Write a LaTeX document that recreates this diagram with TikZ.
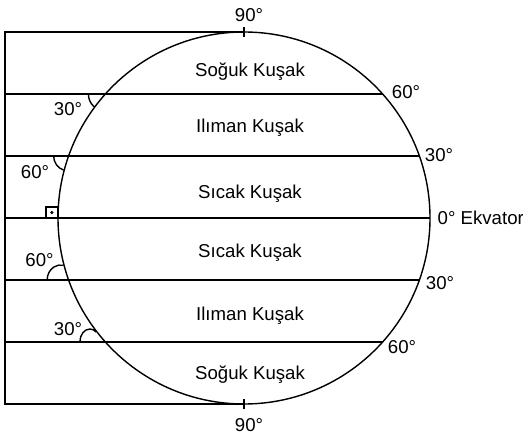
\documentclass[tikz,border=0pt]{standalone}
\usepackage{fontspec}
\setmainfont{Liberation Sans}
\usepackage{tikz}
\usetikzlibrary{calc}

\begin{document}
\begin{tikzpicture}[line width=0.8pt,
    every node/.style={font=\fontsize{10.6}{12}\selectfont,inner sep=0pt}]
    \useasboundingbox (-4.88,-4.42) rectangle (5.58,4.36);
    \def\R{3.72}
    % Küre, kutuplar ve sol çerçeve
    \draw (0,0) circle (\R);
    \coordinate (N) at (0,\R);
    \coordinate (S) at (0,-\R);
    \coordinate (NW) at (-4.78,\R);
    \coordinate (SW) at (-4.78,-\R);
    \draw (N) -- (NW) -- (SW) -- (S);
    \draw ($(N)+(0,-0.1)$) -- ($(N)+(0,0.1)$);
    \draw ($(S)+(0,-0.1)$) -- ($(S)+(0,0.1)$);
    \node at (0.1,4.06) {90°};
    \node at (0.1,-4.14) {90°};
    % Paraleller
    \foreach \a/\p in {41.81/A,19.47/B,0/E,-19.47/C,-41.81/D} {
      \pgfmathsetmacro\b{180-\a}
      \coordinate (R\p) at (\a:\R);
      \coordinate (L\p) at (\b:\R);
      \draw (R\p -| NW) -- (R\p);
    }
    \node at (3.24,2.52) {60°};
    \node at (3.9,1.26) {30°};
    \node[anchor=west] at (3.86,0) {0° Ekvator};
    \node at (3.92,-1.31) {30°};
    \node at (3.16,-2.58) {60°};
    % Açılar
    \draw ($(LA)+(-0.34,0)$) arc[start angle=180,end angle=228.2,radius=0.34];
    \draw ($(LB)+(-0.3,0)$) arc[start angle=180,end angle=250.5,radius=0.3];
    \draw ($(LC)+(-0.43,0)$) arc[start angle=180,end angle=78,x radius=0.27,y radius=0.3];
    \draw ($(LD)+(-0.51,0)$) arc[start angle=180,end angle=50,x radius=0.2,y radius=0.26];
    \draw[line width=0.6pt] ($(LE)+(-0.24,0)$) rectangle ($(LE)+(0,0.22)$);
    \fill ($(LE)+(-0.12,0.11)$) circle (0.035);
    \node at (-3.52,2.18) {30°};
    \node at (-4.18,0.92) {60°};
    \node at (-4.09,-0.84) {60°};
    \node at (-3.52,-2.23) {30°};
    % Kuşaklar
    \node[anchor=base] at (0.12,2.82) {Soğuk Kuşak};
    \node[anchor=base] at (0.12,1.7) {Ilıman Kuşak};
    \node[anchor=base] at (0.12,0.38) {Sıcak Kuşak};
    \node[anchor=base] at (0.12,-0.78) {Sıcak Kuşak};
    \node[anchor=base] at (0.12,-2.04) {Ilıman Kuşak};
    \node[anchor=base] at (0.12,-3.22) {Soğuk Kuşak};
  \end{tikzpicture}
\end{document}
